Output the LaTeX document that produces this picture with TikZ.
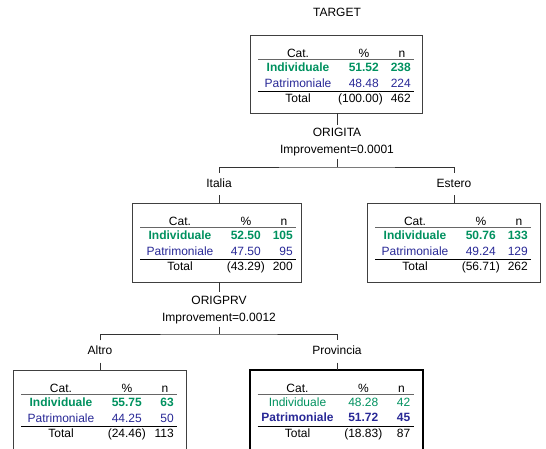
\documentclass[tikz,border=0pt]{standalone}
\usepackage{fontspec}
\setmainfont{Liberation Sans}
\usepackage{tikz}
\usetikzlibrary{positioning}

\definecolor{indgreen}{RGB}{0,145,95}
\definecolor{patblue}{RGB}{40,40,150}
\newcommand{\treefont}{\fontsize{12}{17}\selectfont}

\tikzset{
  nodebox/.style={draw=black!75, line width=1pt, inner sep=0pt, outer sep=0pt, anchor=north west},
  bestbox/.style={nodebox, draw=black, line width=2pt},
  conn/.style={draw=black!80, line width=1pt},
  headrule/.style={draw=black!60, line width=1pt},
  totalrule/.style={draw=black, line width=1pt},
  splitlab/.style={align=center, text height=26pt, text depth=3pt, inner xsep=2pt, inner ysep=2.5pt},
  branchlab/.style={text height=9pt, text depth=3pt, inner ysep=5pt},
  ind/.style={text=indgreen},
  indb/.style={text=indgreen, font=\treefont\bfseries},
  pat/.style={text=patblue},
  patb/.style={text=patblue, font=\treefont\bfseries},
}

% body of one tree node: name, style/pct/n of both rows, total
\newcommand{\celltable}[9]{%
  \begin{scope}[shift={(#1.north west)}, every node/.append style={inner sep=0pt}]
    \node[anchor=base] (#1-cat) at (48,22.5) {Cat.};
    \node[anchor=base] (#1-pcth) at (114,22.5) {\%};
    \node[anchor=base] (#1-nh) at (152,22.5) {n};
    \draw[headrule] (8,24.5) -- (164,24.5);
    \node[anchor=base, #2] (#1-c1) at (48,36.5) {Individuale};
    \node[anchor=base east, #2] (#1-p1) at (129,36.5) {#3};
    \node[anchor=base east, #2] (#1-n1) at (161,36.5) {#4};
    \node[anchor=base, #5] (#1-c2) at (48,52) {Patrimoniale};
    \node[anchor=base east, #5] (#1-p2) at (129,52) {#6};
    \node[anchor=base east, #5] (#1-n2) at (161,52) {#7};
    \draw[totalrule] (8,56.5) -- (164,56.5);
    \node[anchor=base] (#1-ct) at (48,67.5) {Total};
    \node[anchor=base east] (#1-pt) at (129,67.5) {(#8\rlap{)}};
    \node[anchor=base east] (#1-nt) at (161,67.5) {#9};
  \end{scope}}

\begin{document}
\begin{tikzpicture}[x=1pt, y=-1pt, font=\treefont]
  \useasboundingbox (0,0) rectangle (546,448);

  \node[anchor=base] (target) at (337,16.5) {TARGET};

  % first split
  \node[nodebox, minimum width=172pt, minimum height=78pt] (root) at (250,35) {};
  \celltable{root}{indb}{51.52}{238}{pat}{48.48}{224}{100.00}{462}

  \node[splitlab] (origita) at (337,142) {ORIGITA\\Improvement=0.0001};
  \coordinate (bar1) at (337,167);
  \node[branchlab] (italia) at (219,184) {Italia};
  \node[branchlab] (estero) at (454,184) {Estero};

  \node[nodebox, minimum width=169pt, minimum height=79pt] (italiabox) at (132,203) {};
  \celltable{italiabox}{indb}{52.50}{105}{pat}{47.50}{95}{43.29}{200}
  \node[nodebox, minimum width=173pt, minimum height=79pt] (esterobox) at (367,203) {};
  \celltable{esterobox}{indb}{50.76}{133}{pat}{49.24}{129}{56.71}{262}

  % second split
  \node[splitlab] (origprv) at (219,309.5) {ORIGPRV\\Improvement=0.0012};
  \coordinate (bar2) at (219,334);
  \node[branchlab] (altro) at (100,351.5) {Altro};
  \node[branchlab] (provincia) at (337,351.5) {Provincia};

  \node[nodebox, minimum width=173pt, minimum height=80pt] (altrobox) at (13,370) {};
  \celltable{altrobox}{indb}{55.75}{63}{pat}{44.25}{50}{24.46}{113}
  \node[bestbox, minimum width=173pt, minimum height=80pt] (provbox) at (249.5,369.5) {};
  \celltable{provbox}{ind}{48.28}{42}{patb}{51.72}{45}{18.83}{87}

  % connectors
  \draw[conn] (origita.north |- root.south) -- (origita.north);
  \draw[conn] (origita.south) -- (bar1);
  \draw[conn] (italia.north) |- (bar1) -| (estero.north);
  \draw[conn] (italia.south) -- (italia.south |- italiabox.north);
  \draw[conn] (estero.south) -- (estero.south |- esterobox.north);
  \draw[conn] (origprv.north |- italiabox.south) -- (origprv.north);
  \draw[conn] (origprv.south) -- (bar2);
  \draw[conn] (altro.north) |- (bar2) -| (provincia.north);
  \draw[conn] (altro.south) -- (altro.south |- altrobox.north);
  \draw[conn] (provincia.south) -- (provincia.south |- provbox.north);
\end{tikzpicture}
\end{document}
